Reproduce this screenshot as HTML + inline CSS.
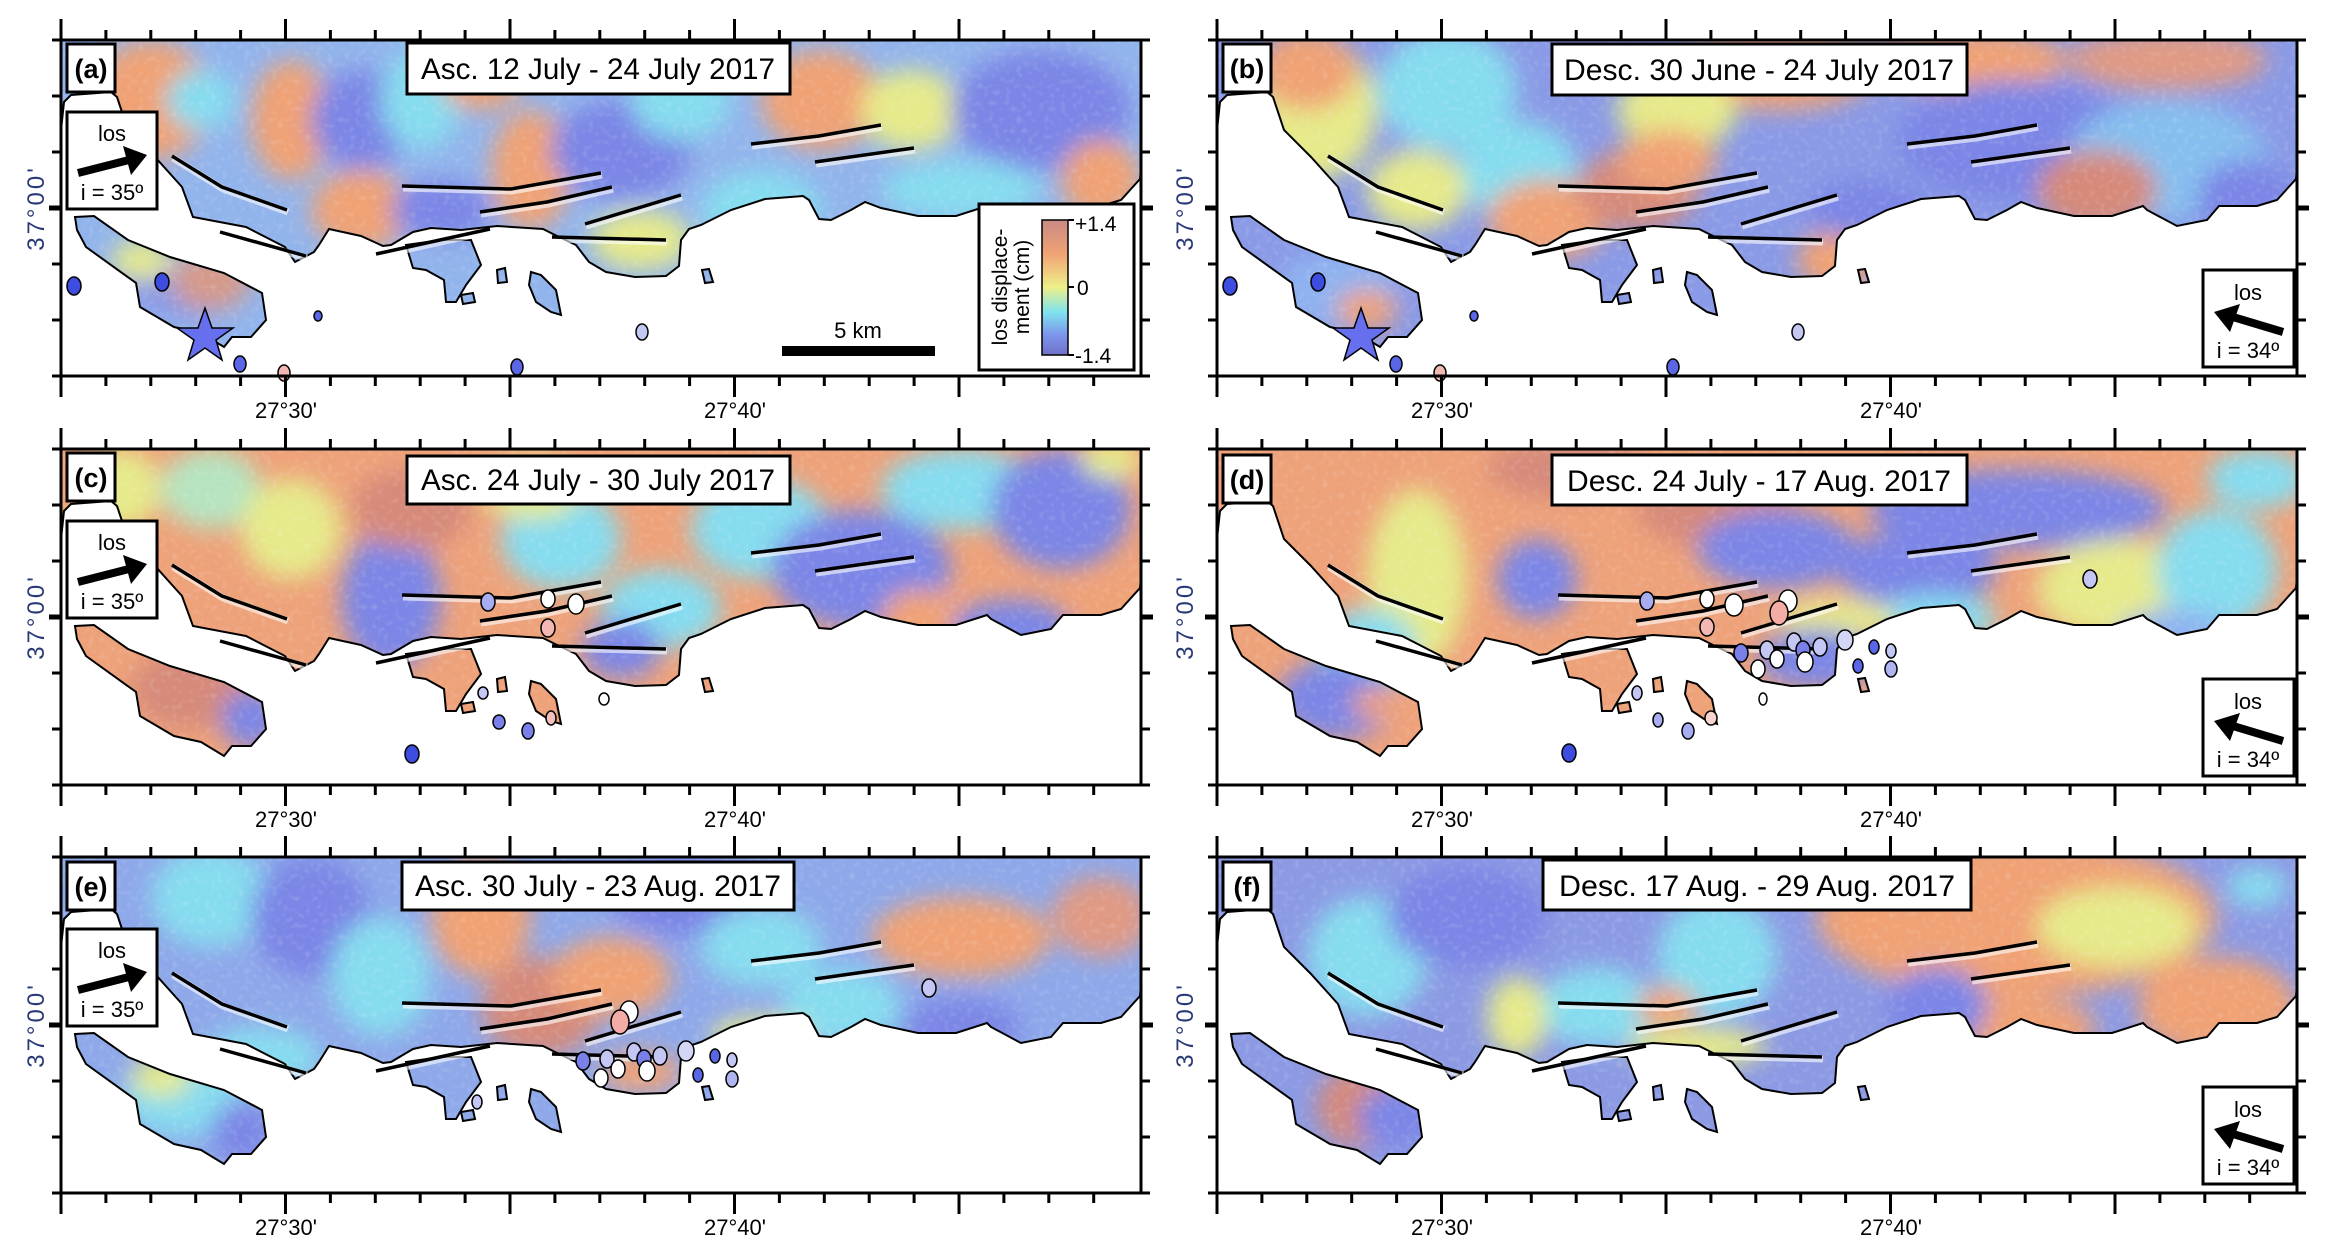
<!DOCTYPE html>
<html><head><meta charset="utf-8"><style>
html,body{margin:0;padding:0;background:#fff;}
svg{display:block;}
.t{font-family:"Liberation Sans Narrow","Liberation Sans",sans-serif;}
</style></head><body>
<svg width="2345" height="1256" viewBox="0 0 2345 1256" xmlns="http://www.w3.org/2000/svg" xmlns:xlink="http://www.w3.org/1999/xlink">
<defs>
<path id="land" d="M0,0 H1080 V128 L1079,139 L1060,160 L1040,166 L1002,166 L990,180 L960,186 L930,170 L926,166 L895,176 L857,176 L820,168 L804,162 L790,170 L770,180 L758,179 L748,160 L742,156 L704,159 L670,170 L640,185 L628,189 L620,200 L618,226 L605,236 L574,237 L545,232 L528,222 L515,205 L498,197 L482,189 L436,186 L400,190 L370,188 L352,192 L330,205 L322,206 L300,196 L268,189 L258,205 L253,212 L234,222 L224,207 L185,187 L132,177 L121,147 L94,117 L67,90 L56,57 L50,52 L10,55 L3,62 L0,90 Z
M14,177 L33,176 L67,200 L109,217 L163,233 L201,253 L205,280 L190,297 L171,297 L163,307 L140,293 L113,287 L79,267 L75,243 L25,207 L16,190 Z
M345,205 L380,200 L410,200 L420,225 L405,245 L395,262 L385,262 L383,240 L365,230 L352,228 Z
M470,232 L480,235 L495,250 L500,275 L490,272 L475,262 L468,245 Z
M436,230 L444,228 L446,242 L437,243 Z
M641,230 L648,229 L652,242 L644,243 Z
M400,255 L412,253 L414,262 L402,264 Z"/>
<clipPath id="clip"><use xlink:href="#land"/></clipPath>
<filter id="bl" x="-10%" y="-10%" width="120%" height="120%"><feGaussianBlur stdDeviation="12"/></filter>
<filter id="nz" x="0" y="0" width="100%" height="100%">
 <feTurbulence type="fractalNoise" baseFrequency="0.18" numOctaves="1" seed="3"/>
 <feColorMatrix values="0 0 0 0 1  0 0 0 0 1  0 0 0 0 1  0 0 0 0.9 -0.45"/>
</filter>
<g id="faults" fill="none" stroke-linecap="butt">
 <g stroke="#fff" stroke-opacity="0.6" stroke-width="7" transform="translate(1,2)">
  <polyline points="111,116 161,147 226,170"/><polyline points="159,192 245,216"/>
  <polyline points="341,146 450,149 540,133"/><polyline points="419,172 486,162 551,147"/>
  <polyline points="524,184 620,155"/><polyline points="315,214 429,189"/>
  <polyline points="491,197 605,200"/><polyline points="690,104 758,96 820,85"/>
  <polyline points="754,122 853,108"/>
 </g>
 <g stroke="#000" stroke-width="3.5">
  <polyline points="111,116 161,147 226,170"/><polyline points="159,192 245,216"/>
  <polyline points="341,146 450,149 540,133"/><polyline points="419,172 486,162 551,147"/>
  <polyline points="524,184 620,155"/><polyline points="315,214 429,189"/>
  <polyline points="491,197 605,200"/><polyline points="690,104 758,96 820,85"/>
  <polyline points="754,122 853,108"/>
 </g>
</g>
<g id="tt" stroke="#000" stroke-width="3" fill="none">
 <path d="M44.9,0v-10M89.8,0v-10M134.7,0v-10M179.6,0v-10M269.4,0v-10M314.3,0v-10M359.2,0v-10M404.1,0v-10M493.9,0v-10M538.8,0v-10M583.7,0v-10M628.6,0v-10M718.4,0v-10M763.3,0v-10M808.2,0v-10M853.1,0v-10M942.9,0v-10M987.8,0v-10M1032.7,0v-10"/>
 <path d="M0,0v-21M224.5,0v-21M449,0v-21M673.5,0v-21M898,0v-21"/>
</g>
<g id="frame">
 <use xlink:href="#tt"/>
 <use xlink:href="#tt" transform="translate(0,336) scale(1,-1)"/>
 <path d="M0,0h-9M0,56h-9M0,112h-9M0,224h-9M0,280h-9M0,336h-9M1080,0h9M1080,56h9M1080,112h9M1080,224h9M1080,280h9M1080,336h9" stroke="#000" stroke-width="3"/>
 <path d="M0,168h-12M1080,168h12" stroke="#000" stroke-width="5"/>
 <rect x="0" y="0" width="1080" height="336" fill="none" stroke="#000" stroke-width="3"/>
</g>
<g id="noise"><rect width="1080" height="336" filter="url(#nz)" clip-path="url(#clip)" opacity="0.5"/></g>
<g id="losR">
 <rect x="6" y="72" width="90" height="97" fill="#fff" stroke="#000" stroke-width="3"/>
 <line x1="17" y1="133" x2="68" y2="120" stroke="#000" stroke-width="8"/>
 <polygon points="86,115 62,106 70,135" fill="#000"/>
</g>
<g id="losL">
 <rect x="986" y="230" width="91" height="97" fill="#fff" stroke="#000" stroke-width="3"/>
 <line x1="1066" y1="292" x2="1016" y2="277" stroke="#000" stroke-width="8"/>
 <polygon points="997,272 1023,264 1013,292" fill="#000"/>
</g>
<g id="dotsAB" stroke="#000" stroke-width="1.5">
 <ellipse cx="13" cy="246" rx="7" ry="9" fill="#3d4de0"/>
 <ellipse cx="101" cy="242" rx="7" ry="9" fill="#3d4de0"/>
 <ellipse cx="257" cy="276" rx="4" ry="5" fill="#5a66e6"/>
 <ellipse cx="179" cy="324" rx="6" ry="8" fill="#5a66e6"/>
 <ellipse cx="223" cy="333" rx="6" ry="8" fill="#f4b8b4"/>
 <ellipse cx="456" cy="327" rx="6" ry="8" fill="#5a66e6"/>
 <ellipse cx="581" cy="292" rx="6" ry="8" fill="#c4c6f4"/>
 <polygon points="144,268 151,288 172,288 155,300 161,320 144,308 127,320 133,300 116,288 137,288" fill="#6670ee"/>
</g>
</defs>

<!-- ================= PANEL A ================= -->
<g transform="translate(61,40)">
 <g clip-path="url(#clip)">
  <rect width="1080" height="336" fill="#92b4ec"/>
  <g filter="url(#bl)">
   <ellipse cx="90" cy="60" rx="60" ry="60" fill="#f0a274"/>
   <ellipse cx="140" cy="60" rx="35" ry="30" fill="#86dcef"/>
   <ellipse cx="230" cy="80" rx="40" ry="60" fill="#f0a274"/>
   <ellipse cx="300" cy="80" rx="50" ry="50" fill="#7b86e6"/>
   <ellipse cx="360" cy="60" rx="40" ry="50" fill="#86dcef"/>
   <ellipse cx="470" cy="130" rx="40" ry="60" fill="#f0a274"/>
   <ellipse cx="420" cy="40" rx="40" ry="30" fill="#f0a274"/>
   <ellipse cx="560" cy="110" rx="70" ry="50" fill="#7b86e6"/>
   <ellipse cx="620" cy="60" rx="50" ry="40" fill="#86dcef"/>
   <ellipse cx="760" cy="60" rx="60" ry="50" fill="#f0a274"/>
   <ellipse cx="850" cy="70" rx="50" ry="40" fill="#e6ea8a"/>
   <ellipse cx="980" cy="70" rx="90" ry="60" fill="#7b86e6"/>
   <ellipse cx="700" cy="170" rx="60" ry="40" fill="#86dcef"/>
   <ellipse cx="580" cy="200" rx="50" ry="30" fill="#e6ea8a"/>
   <ellipse cx="300" cy="170" rx="50" ry="40" fill="#f0a274"/>
   <ellipse cx="380" cy="170" rx="50" ry="30" fill="#7b86e6"/>
   <ellipse cx="900" cy="150" rx="80" ry="30" fill="#86dcef"/>
   <ellipse cx="1040" cy="140" rx="40" ry="40" fill="#f0a274"/>
   <ellipse cx="120" cy="250" rx="60" ry="30" fill="#8a9ae6"/>
   <ellipse cx="150" cy="240" rx="40" ry="30" fill="#d59a8a"/>
   <ellipse cx="80" cy="220" rx="30" ry="20" fill="#e6ea8a"/>
  </g>
 </g>
 <use xlink:href="#noise"/>
 <use xlink:href="#land" fill="none" stroke="#000" stroke-width="2"/>
 <use xlink:href="#faults"/>
 <use xlink:href="#dotsAB"/>
 <use xlink:href="#losR"/>
 <text class="t" x="51" y="101" font-size="22" text-anchor="middle">los</text>
 <text class="t" x="51" y="160" font-size="22" text-anchor="middle">i = 35º</text>
 <rect x="6" y="4" width="48" height="48" fill="#fff" stroke="#000" stroke-width="3"/>
 <text x="30" y="38" font-family="Liberation Sans, sans-serif" font-weight="bold" font-size="27" text-anchor="middle">(a)</text>
 <rect x="346" y="3" width="383" height="51" fill="#fff" stroke="#000" stroke-width="3"/>
 <text class="t" x="537" y="39" font-size="30" text-anchor="middle" textLength="354" lengthAdjust="spacingAndGlyphs">Asc. 12 July - 24 July 2017</text>
 <rect x="721" y="306" width="153" height="10" fill="#000"/>
 <text class="t" x="797" y="298" font-size="22" text-anchor="middle">5 km</text>
 <rect x="918" y="164" width="155" height="166" fill="#fff" stroke="#000" stroke-width="3"/>
 <linearGradient id="cb" x1="0" y1="0" x2="0" y2="1">
  <stop offset="0" stop-color="#c88a84"/><stop offset="0.25" stop-color="#f0a274"/>
  <stop offset="0.5" stop-color="#eef08a"/><stop offset="0.68" stop-color="#80e4ee"/>
  <stop offset="0.85" stop-color="#7c96ec"/><stop offset="1" stop-color="#7270c8"/>
 </linearGradient>
 <rect x="981" y="180" width="26" height="135" fill="url(#cb)" stroke="#000" stroke-width="1.5"/>
 <path d="M1007,180h6M1007,247h6M1007,315h6" stroke="#000" stroke-width="2"/>
 <text class="t" x="1014" y="191" font-size="21">+1.4</text>
 <text class="t" x="1016" y="255" font-size="21">0</text>
 <text class="t" x="1014" y="323" font-size="21">-1.4</text>
 <text class="t" font-size="21" text-anchor="middle" transform="translate(946,247) rotate(-90)">los displace-</text>
 <text class="t" font-size="21" text-anchor="middle" transform="translate(968,247) rotate(-90)">ment (cm)</text>
 <use xlink:href="#frame"/>
 <text class="t" x="225" y="378" font-size="22" text-anchor="middle">27°30'</text>
 <text class="t" x="674" y="378" font-size="22" text-anchor="middle">27°40'</text>
</g>

<!-- ================= PANEL B ================= -->
<g transform="translate(1217,40)">
 <g clip-path="url(#clip)">
  <rect width="1080" height="336" fill="#8a9ae6"/>
  <g filter="url(#bl)">
   <ellipse cx="100" cy="70" rx="60" ry="70" fill="#e6ea8a"/>
   <ellipse cx="90" cy="30" rx="50" ry="40" fill="#f0a274"/>
   <ellipse cx="230" cy="50" rx="70" ry="60" fill="#86dcef"/>
   <ellipse cx="300" cy="130" rx="60" ry="50" fill="#86dcef"/>
   <ellipse cx="200" cy="150" rx="50" ry="40" fill="#e6ea8a"/>
   <ellipse cx="330" cy="180" rx="60" ry="40" fill="#f0a274"/>
   <ellipse cx="420" cy="150" rx="60" ry="40" fill="#d58a7a"/>
   <ellipse cx="560" cy="30" rx="100" ry="40" fill="#f0a274"/>
   <ellipse cx="460" cy="70" rx="60" ry="40" fill="#e6ea8a"/>
   <ellipse cx="750" cy="20" rx="100" ry="30" fill="#f0a274"/>
   <ellipse cx="950" cy="20" rx="100" ry="30" fill="#e09a84"/>
   <ellipse cx="800" cy="100" rx="120" ry="60" fill="#7b86e6"/>
   <ellipse cx="950" cy="120" rx="100" ry="60" fill="#86bfef"/>
   <ellipse cx="620" cy="220" rx="40" ry="30" fill="#f0a274"/>
   <ellipse cx="650" cy="170" rx="60" ry="30" fill="#7b86e6"/>
   <ellipse cx="450" cy="120" rx="50" ry="30" fill="#f0a274"/>
   <ellipse cx="880" cy="150" rx="60" ry="40" fill="#d58a7a"/>
   <ellipse cx="1030" cy="160" rx="50" ry="40" fill="#7b86e6"/>
   <ellipse cx="120" cy="250" rx="60" ry="40" fill="#8fb2f0"/>
   <ellipse cx="150" cy="270" rx="30" ry="20" fill="#f0a274"/>
  </g>
 </g>
 <use xlink:href="#noise"/>
 <use xlink:href="#land" fill="none" stroke="#000" stroke-width="2"/>
 <use xlink:href="#faults"/>
 <use xlink:href="#dotsAB"/>
 <use xlink:href="#losL"/>
 <text class="t" x="1031" y="260" font-size="22" text-anchor="middle">los</text>
 <text class="t" x="1031" y="318" font-size="22" text-anchor="middle">i = 34º</text>
 <rect x="6" y="4" width="48" height="48" fill="#fff" stroke="#000" stroke-width="3"/>
 <text x="30" y="38" font-family="Liberation Sans, sans-serif" font-weight="bold" font-size="27" text-anchor="middle">(b)</text>
 <rect x="335" y="4" width="415" height="51" fill="#fff" stroke="#000" stroke-width="3"/>
 <text class="t" x="542" y="40" font-size="30" text-anchor="middle" textLength="390" lengthAdjust="spacingAndGlyphs">Desc. 30 June - 24 July 2017</text>
 <use xlink:href="#frame"/>
 <text class="t" x="225" y="378" font-size="22" text-anchor="middle">27°30'</text>
 <text class="t" x="674" y="378" font-size="22" text-anchor="middle">27°40'</text>
</g>

<!-- ================= PANEL C ================= -->
<g transform="translate(61,449)">
 <g clip-path="url(#clip)">
  <rect width="1080" height="336" fill="#eea27a"/>
  <g filter="url(#bl)">
   <ellipse cx="60" cy="40" rx="40" ry="40" fill="#e6ea8a"/>
   <ellipse cx="150" cy="40" rx="50" ry="40" fill="#b6e4c0"/>
   <ellipse cx="230" cy="80" rx="50" ry="50" fill="#e6ea8a"/>
   <ellipse cx="330" cy="150" rx="50" ry="70" fill="#7b86e6"/>
   <ellipse cx="350" cy="60" rx="60" ry="40" fill="#d58a7a"/>
   <ellipse cx="500" cy="90" rx="60" ry="50" fill="#86dcef"/>
   <ellipse cx="470" cy="40" rx="50" ry="30" fill="#e6ea8a"/>
   <ellipse cx="600" cy="160" rx="60" ry="40" fill="#86dcef"/>
   <ellipse cx="560" cy="200" rx="40" ry="30" fill="#7b86e6"/>
   <ellipse cx="700" cy="80" rx="70" ry="50" fill="#86dcef"/>
   <ellipse cx="800" cy="120" rx="90" ry="60" fill="#7b86e6"/>
   <ellipse cx="900" cy="40" rx="80" ry="40" fill="#86dcef"/>
   <ellipse cx="1000" cy="60" rx="70" ry="60" fill="#7b86e6"/>
   <ellipse cx="860" cy="170" rx="40" ry="30" fill="#f0a274"/>
   <ellipse cx="1060" cy="170" rx="40" ry="30" fill="#f0a274"/>
   <ellipse cx="950" cy="180" rx="60" ry="30" fill="#7b86e6"/>
   <ellipse cx="1050" cy="10" rx="30" ry="20" fill="#e6ea8a"/>
   <ellipse cx="130" cy="240" rx="60" ry="40" fill="#d58a7a"/>
   <ellipse cx="190" cy="270" rx="30" ry="30" fill="#7b86e6"/>
  </g>
 </g>
 <use xlink:href="#noise"/>
 <use xlink:href="#land" fill="none" stroke="#000" stroke-width="2"/>
 <use xlink:href="#faults"/>
 <g stroke="#000" stroke-width="1.5">
  <ellipse cx="427" cy="153" rx="7" ry="9" fill="#a8acf0"/>
  <ellipse cx="487" cy="150" rx="7" ry="9" fill="#fff"/>
  <ellipse cx="515" cy="155" rx="8" ry="10" fill="#fff"/>
  <ellipse cx="487" cy="179" rx="7" ry="9" fill="#f4b8b4"/>
  <ellipse cx="422" cy="244" rx="5" ry="6" fill="#c4c6f4"/>
  <ellipse cx="438" cy="273" rx="6" ry="7" fill="#7a80ea"/>
  <ellipse cx="467" cy="282" rx="6" ry="8" fill="#7a80ea"/>
  <ellipse cx="490" cy="269" rx="5" ry="7" fill="#f4c0bc"/>
  <ellipse cx="543" cy="250" rx="5" ry="6" fill="#fff"/>
  <ellipse cx="351" cy="305" rx="7" ry="9" fill="#3d4de0"/>
 </g>
 <use xlink:href="#losR"/>
 <text class="t" x="51" y="101" font-size="22" text-anchor="middle">los</text>
 <text class="t" x="51" y="160" font-size="22" text-anchor="middle">i = 35º</text>
 <rect x="6" y="4" width="48" height="48" fill="#fff" stroke="#000" stroke-width="3"/>
 <text x="30" y="38" font-family="Liberation Sans, sans-serif" font-weight="bold" font-size="27" text-anchor="middle">(c)</text>
 <rect x="346" y="7" width="383" height="48" fill="#fff" stroke="#000" stroke-width="3"/>
 <text class="t" x="537" y="41" font-size="30" text-anchor="middle" textLength="354" lengthAdjust="spacingAndGlyphs">Asc. 24 July - 30 July 2017</text>
 <use xlink:href="#frame"/>
 <text class="t" x="225" y="378" font-size="22" text-anchor="middle">27°30'</text>
 <text class="t" x="674" y="378" font-size="22" text-anchor="middle">27°40'</text>
</g>

<!-- ================= PANEL D ================= -->
<g transform="translate(1217,449)">
 <g clip-path="url(#clip)">
  <rect width="1080" height="336" fill="#eea27a"/>
  <g filter="url(#bl)">
   <ellipse cx="200" cy="130" rx="50" ry="90" fill="#e6ea8a"/>
   <ellipse cx="150" cy="200" rx="50" ry="40" fill="#86dcef"/>
   <ellipse cx="320" cy="130" rx="40" ry="40" fill="#7b86e6"/>
   <ellipse cx="500" cy="60" rx="80" ry="40" fill="#d58a7a"/>
   <ellipse cx="560" cy="100" rx="80" ry="40" fill="#7b86e6"/>
   <ellipse cx="800" cy="60" rx="150" ry="40" fill="#7b86e6"/>
   <ellipse cx="700" cy="120" rx="80" ry="40" fill="#7b86e6"/>
   <ellipse cx="720" cy="170" rx="60" ry="25" fill="#86dcef"/>
   <ellipse cx="620" cy="170" rx="60" ry="20" fill="#e6ea8a"/>
   <ellipse cx="900" cy="140" rx="80" ry="50" fill="#e6ea8a"/>
   <ellipse cx="1000" cy="120" rx="60" ry="60" fill="#86dcef"/>
   <ellipse cx="1040" cy="30" rx="50" ry="30" fill="#86dcef"/>
   <ellipse cx="600" cy="210" rx="60" ry="30" fill="#7b86e6"/>
   <ellipse cx="350" cy="20" rx="80" ry="30" fill="#d58a7a"/>
   <ellipse cx="960" cy="190" rx="60" ry="30" fill="#8fb2f0"/>
   <ellipse cx="120" cy="250" rx="60" ry="40" fill="#7b86e6"/>
   <ellipse cx="160" cy="255" rx="25" ry="15" fill="#f0a274"/>
  </g>
 </g>
 <use xlink:href="#noise"/>
 <use xlink:href="#land" fill="none" stroke="#000" stroke-width="2"/>
 <use xlink:href="#faults"/>
 <g stroke="#000" stroke-width="1.5">
  <ellipse cx="430" cy="152" rx="7" ry="9" fill="#a8acf0"/>
  <ellipse cx="490" cy="150" rx="7" ry="9" fill="#fff"/>
  <ellipse cx="517" cy="156" rx="9" ry="11" fill="#fff"/>
  <ellipse cx="571" cy="152" rx="9" ry="11" fill="#fff"/>
  <ellipse cx="562" cy="164" rx="9" ry="12" fill="#f4aca6"/>
  <ellipse cx="490" cy="178" rx="7" ry="9" fill="#f4b8b4"/>
  <ellipse cx="873" cy="130" rx="7" ry="9" fill="#c4c6f4"/>
  <ellipse cx="524" cy="204" rx="7" ry="9" fill="#7a80ea"/>
  <ellipse cx="550" cy="201" rx="7" ry="9" fill="#c4c6f4"/>
  <ellipse cx="560" cy="210" rx="7" ry="9" fill="#fff"/>
  <ellipse cx="541" cy="220" rx="7" ry="9" fill="#fff"/>
  <ellipse cx="577" cy="193" rx="7" ry="9" fill="#c4c6f4"/>
  <ellipse cx="586" cy="201" rx="7" ry="9" fill="#7a80ea"/>
  <ellipse cx="588" cy="213" rx="8" ry="10" fill="#fff"/>
  <ellipse cx="603" cy="198" rx="7" ry="9" fill="#c4c6f4"/>
  <ellipse cx="628" cy="191" rx="8" ry="10" fill="#d4d6f6"/>
  <ellipse cx="657" cy="198" rx="5" ry="7" fill="#5a66e6"/>
  <ellipse cx="674" cy="202" rx="5" ry="7" fill="#c4c6f4"/>
  <ellipse cx="641" cy="217" rx="5" ry="7" fill="#5a66e6"/>
  <ellipse cx="674" cy="220" rx="6" ry="8" fill="#b0b4f0"/>
  <ellipse cx="420" cy="244" rx="5" ry="7" fill="#c4c6f4"/>
  <ellipse cx="441" cy="271" rx="5" ry="7" fill="#a8acf0"/>
  <ellipse cx="471" cy="282" rx="6" ry="8" fill="#a8acf0"/>
  <ellipse cx="494" cy="269" rx="6" ry="7" fill="#f8d4d0"/>
  <ellipse cx="546" cy="250" rx="4" ry="6" fill="#fff"/>
  <ellipse cx="352" cy="304" rx="7" ry="9" fill="#3d4de0"/>
 </g>
 <use xlink:href="#losL"/>
 <text class="t" x="1031" y="260" font-size="22" text-anchor="middle">los</text>
 <text class="t" x="1031" y="318" font-size="22" text-anchor="middle">i = 34º</text>
 <rect x="6" y="6" width="48" height="48" fill="#fff" stroke="#000" stroke-width="3"/>
 <text x="30" y="40" font-family="Liberation Sans, sans-serif" font-weight="bold" font-size="27" text-anchor="middle">(d)</text>
 <rect x="335" y="6" width="415" height="50" fill="#fff" stroke="#000" stroke-width="3"/>
 <text class="t" x="542" y="42" font-size="30" text-anchor="middle" textLength="384" lengthAdjust="spacingAndGlyphs">Desc. 24 July - 17 Aug. 2017</text>
 <use xlink:href="#frame"/>
 <text class="t" x="225" y="378" font-size="22" text-anchor="middle">27°30'</text>
 <text class="t" x="674" y="378" font-size="22" text-anchor="middle">27°40'</text>
</g>

<!-- ================= PANEL E ================= -->
<g transform="translate(61,857)">
 <g clip-path="url(#clip)">
  <rect width="1080" height="336" fill="#8ea8ea"/>
  <g filter="url(#bl)">
   <ellipse cx="150" cy="40" rx="60" ry="50" fill="#86dcef"/>
   <ellipse cx="250" cy="60" rx="60" ry="60" fill="#7b86e6"/>
   <ellipse cx="320" cy="120" rx="50" ry="60" fill="#86dcef"/>
   <ellipse cx="420" cy="60" rx="50" ry="60" fill="#f0a274"/>
   <ellipse cx="480" cy="150" rx="60" ry="50" fill="#d58a7a"/>
   <ellipse cx="550" cy="120" rx="60" ry="40" fill="#f0a274"/>
   <ellipse cx="620" cy="40" rx="70" ry="40" fill="#7b86e6"/>
   <ellipse cx="700" cy="90" rx="60" ry="40" fill="#86dcef"/>
   <ellipse cx="900" cy="80" rx="90" ry="40" fill="#f0a274"/>
   <ellipse cx="1040" cy="60" rx="50" ry="40" fill="#e09a84"/>
   <ellipse cx="780" cy="150" rx="60" ry="40" fill="#86dcef"/>
   <ellipse cx="700" cy="180" rx="50" ry="20" fill="#e6ea8a"/>
   <ellipse cx="900" cy="170" rx="60" ry="30" fill="#7b86e6"/>
   <ellipse cx="580" cy="215" rx="40" ry="20" fill="#f0a274"/>
   <ellipse cx="200" cy="200" rx="60" ry="30" fill="#86dcef"/>
   <ellipse cx="120" cy="240" rx="60" ry="40" fill="#86dcef"/>
   <ellipse cx="100" cy="220" rx="30" ry="20" fill="#e6ea8a"/>
   <ellipse cx="180" cy="275" rx="30" ry="30" fill="#7b86e6"/>
  </g>
 </g>
 <use xlink:href="#noise"/>
 <use xlink:href="#land" fill="none" stroke="#000" stroke-width="2"/>
 <use xlink:href="#faults"/>
 <g stroke="#000" stroke-width="1.5">
  <ellipse cx="568" cy="155" rx="9" ry="11" fill="#fff"/>
  <ellipse cx="559" cy="165" rx="9" ry="12" fill="#f4aca6"/>
  <ellipse cx="868" cy="131" rx="7" ry="9" fill="#c4c6f4"/>
  <ellipse cx="522" cy="204" rx="7" ry="9" fill="#7a80ea"/>
  <ellipse cx="546" cy="202" rx="7" ry="9" fill="#c4c6f4"/>
  <ellipse cx="557" cy="212" rx="7" ry="9" fill="#fff"/>
  <ellipse cx="540" cy="221" rx="7" ry="9" fill="#fff"/>
  <ellipse cx="573" cy="195" rx="7" ry="9" fill="#c4c6f4"/>
  <ellipse cx="583" cy="202" rx="7" ry="9" fill="#7a80ea"/>
  <ellipse cx="586" cy="214" rx="8" ry="10" fill="#fff"/>
  <ellipse cx="599" cy="199" rx="7" ry="9" fill="#c4c6f4"/>
  <ellipse cx="625" cy="194" rx="8" ry="10" fill="#d4d6f6"/>
  <ellipse cx="654" cy="199" rx="5" ry="7" fill="#5a66e6"/>
  <ellipse cx="671" cy="203" rx="5" ry="7" fill="#c4c6f4"/>
  <ellipse cx="637" cy="218" rx="5" ry="7" fill="#5a66e6"/>
  <ellipse cx="671" cy="222" rx="6" ry="8" fill="#b0b4f0"/>
  <ellipse cx="416" cy="245" rx="5" ry="7" fill="#c4c6f4"/>
 </g>
 <use xlink:href="#losR"/>
 <text class="t" x="51" y="101" font-size="22" text-anchor="middle">los</text>
 <text class="t" x="51" y="160" font-size="22" text-anchor="middle">i = 35º</text>
 <rect x="6" y="5" width="48" height="48" fill="#fff" stroke="#000" stroke-width="3"/>
 <text x="30" y="39" font-family="Liberation Sans, sans-serif" font-weight="bold" font-size="27" text-anchor="middle">(e)</text>
 <rect x="341" y="5" width="392" height="48" fill="#fff" stroke="#000" stroke-width="3"/>
 <text class="t" x="537" y="39" font-size="30" text-anchor="middle" textLength="366" lengthAdjust="spacingAndGlyphs">Asc. 30 July - 23 Aug. 2017</text>
 <use xlink:href="#frame"/>
 <text class="t" x="225" y="378" font-size="22" text-anchor="middle">27°30'</text>
 <text class="t" x="674" y="378" font-size="22" text-anchor="middle">27°40'</text>
</g>

<!-- ================= PANEL F ================= -->
<g transform="translate(1217,857)">
 <g clip-path="url(#clip)">
  <rect width="1080" height="336" fill="#8c9ae4"/>
  <g filter="url(#bl)">
   <ellipse cx="150" cy="100" rx="60" ry="60" fill="#86dcef"/>
   <ellipse cx="250" cy="60" rx="80" ry="50" fill="#7b86e6"/>
   <ellipse cx="380" cy="150" rx="60" ry="40" fill="#86dcef"/>
   <ellipse cx="300" cy="160" rx="30" ry="40" fill="#e6ea8a"/>
   <ellipse cx="500" cy="100" rx="60" ry="60" fill="#86dcef"/>
   <ellipse cx="480" cy="190" rx="70" ry="20" fill="#e6ea8a"/>
   <ellipse cx="450" cy="150" rx="30" ry="20" fill="#f0a274"/>
   <ellipse cx="800" cy="60" rx="200" ry="80" fill="#f0a274"/>
   <ellipse cx="900" cy="70" rx="80" ry="40" fill="#e6ea8a"/>
   <ellipse cx="1000" cy="150" rx="80" ry="50" fill="#f0a274"/>
   <ellipse cx="800" cy="170" rx="80" ry="30" fill="#f0a274"/>
   <ellipse cx="720" cy="150" rx="50" ry="40" fill="#7b86e6"/>
   <ellipse cx="1040" cy="30" rx="30" ry="20" fill="#86dcef"/>
   <ellipse cx="1020" cy="210" rx="30" ry="20" fill="#7b86e6"/>
   <ellipse cx="140" cy="250" rx="40" ry="40" fill="#d58a7a"/>
   <ellipse cx="180" cy="260" rx="40" ry="30" fill="#7b86e6"/>
  </g>
 </g>
 <use xlink:href="#noise"/>
 <use xlink:href="#land" fill="none" stroke="#000" stroke-width="2"/>
 <use xlink:href="#faults"/>
 <use xlink:href="#losL"/>
 <text class="t" x="1031" y="260" font-size="22" text-anchor="middle">los</text>
 <text class="t" x="1031" y="318" font-size="22" text-anchor="middle">i = 34º</text>
 <rect x="6" y="5" width="48" height="48" fill="#fff" stroke="#000" stroke-width="3"/>
 <text x="30" y="39" font-family="Liberation Sans, sans-serif" font-weight="bold" font-size="27" text-anchor="middle">(f)</text>
 <rect x="326" y="3" width="428" height="50" fill="#fff" stroke="#000" stroke-width="3"/>
 <text class="t" x="540" y="39" font-size="30" text-anchor="middle" textLength="396" lengthAdjust="spacingAndGlyphs">Desc. 17 Aug. - 29 Aug. 2017</text>
 <use xlink:href="#frame"/>
 <text class="t" x="225" y="378" font-size="22" text-anchor="middle">27°30'</text>
 <text class="t" x="674" y="378" font-size="22" text-anchor="middle">27°40'</text>
</g>

<!-- latitude labels -->
<g font-family="Liberation Sans, sans-serif" font-size="24" fill="#2a3a78" text-anchor="middle" letter-spacing="3">
 <text transform="translate(44,208) rotate(-90)">37°00'</text>
 <text transform="translate(1193,208) rotate(-90)">37°00'</text>
 <text transform="translate(44,617) rotate(-90)">37°00'</text>
 <text transform="translate(1193,617) rotate(-90)">37°00'</text>
 <text transform="translate(44,1025) rotate(-90)">37°00'</text>
 <text transform="translate(1193,1025) rotate(-90)">37°00'</text>
</g>
</svg>
</body></html>
